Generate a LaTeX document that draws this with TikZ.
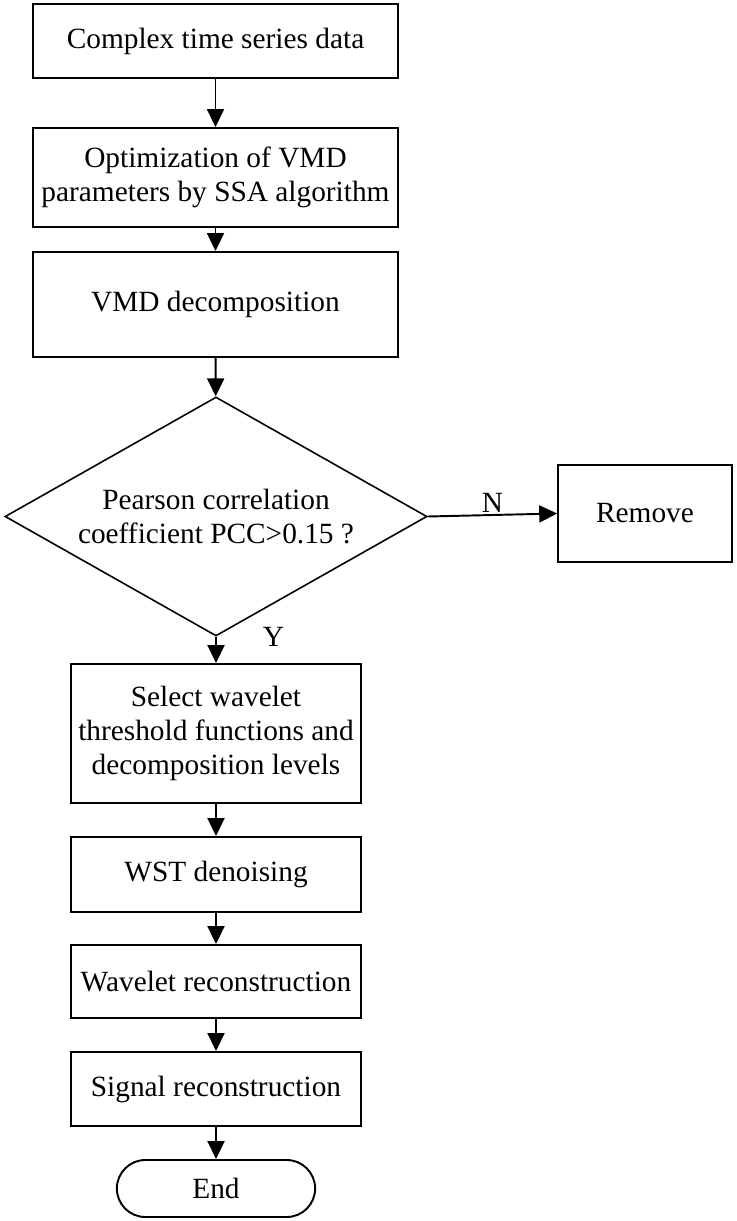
\documentclass[tikz,border=0pt]{standalone}
\usepackage{fontspec}
\setmainfont{Liberation Serif}
\usetikzlibrary{arrows.meta,positioning,shapes.geometric,shapes.misc}

\begin{document}
\begin{tikzpicture}[
  font=\fontsize{16.7}{19.2}\selectfont,
  box/.style={draw, line width=1.1pt, align=center, minimum width=7.3cm, inner sep=2pt},
  wbox/.style={draw, line width=1.1pt, align=center, minimum width=5.8cm, inner sep=2pt},
  decision/.style={draw, diamond, aspect=1.77, line width=0.9pt, align=center, minimum width=8.44cm, minimum height=4.78cm, inner sep=0pt},
  sidebox/.style={draw, line width=0.9pt, align=center, minimum width=3.48cm, minimum height=1.94cm},
  terminal/.style={draw, rounded rectangle, line width=1.1pt, minimum width=4.2cm, minimum height=1.14cm},
  edge/.style={-{Triangle[length=0.36cm, width=0.34cm]}, line width=1.1pt}
]
\useasboundingbox (0,0) rectangle (14.72,-24.42);

\node[box, minimum height=1.48cm] (data) at (4.31,-0.82) {Complex time series data};
\node[box, minimum height=1.98cm] (ssa) at (4.31,-3.55) {Optimization of VMD\\parameters by SSA algorithm};
\node[box, minimum height=2.1cm] (vmd) at (4.31,-6.09) {VMD decomposition};
\node[decision] (pcc) at (4.32,-10.33) {Pearson correlation\\coefficient PCC>0.15 ?};
\node[sidebox] (remove) at (12.9,-10.27) {Remove};
\node[wbox, minimum height=2.78cm] (select) at (4.32,-14.67) {Select wavelet\\threshold functions and\\decomposition levels};
\node[wbox, minimum height=1.5cm] (wst) at (4.32,-17.49) {WST denoising};
\node[wbox, minimum height=1.46cm] (wrec) at (4.32,-19.63) {Wavelet reconstruction};
\node[wbox, minimum height=1.48cm] (srec) at (4.32,-21.78) {Signal reconstruction};
\node[terminal] (end) at (4.32,-23.77) {End};

\draw[edge] (data) -- (ssa);
\draw[edge] (ssa) -- (vmd);
\draw[edge] (vmd) -- (pcc);
\draw[edge] (pcc.east) -- node[above, inner sep=1pt] {N} (remove.west);
\draw[edge] (pcc.south) -- node[at start, anchor=west, xshift=0.8cm] {Y} (select.north);
\draw[edge] (select) -- (wst);
\draw[edge] (wst) -- (wrec);
\draw[edge] (wrec) -- (srec);
\draw[edge] (srec) -- (end);
\end{tikzpicture}
\end{document}
